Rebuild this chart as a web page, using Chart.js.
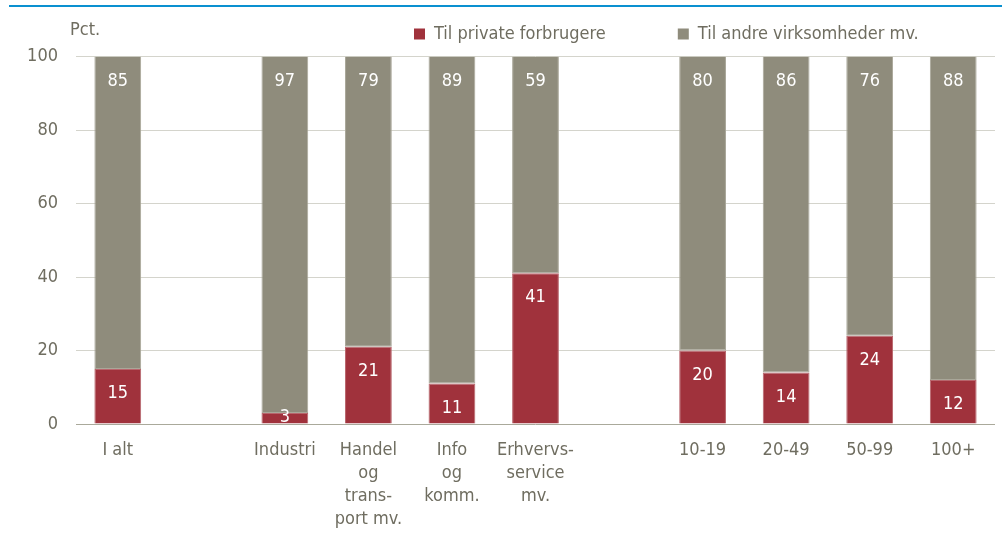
<!DOCTYPE html>
<html lang="da">
<head>
    <meta charset="UTF-8">
    <title>Salg til private forbrugere og virksomheder</title>
    <script src="https://cdn.jsdelivr.net/npm/chart.js@4.4.1/dist/chart.umd.min.js"></script>
    <style>
        body { margin: 0; padding: 0; background: #fff; }
        #wrap { width: 1002px; height: 537px; }
    </style>
</head>
<body>
    <div id="wrap">
        <canvas id="myChart" width="1002" height="537"></canvas>
    </div>

    <script>
    const categories = [
        'I alt', '', 'Industri', ['Handel', 'og', 'trans-', 'port mv.'],
        ['Info', 'og', 'komm.'], ['Erhvervs-', 'service', 'mv.'], '',
        '10-19', '20-49', '50-99', '100+'
    ];
    const privateShare = [15, null, 3, 21, 11, 41, null, 20, 14, 24, 12];
    const otherShare = [85, null, 97, 79, 89, 59, null, 80, 86, 76, 88];
    const yTicks = [0, 20, 40, 60, 80, 100];

    const FONT = "'Liberation Sans Narrow', 'Arial Narrow', 'DejaVu Sans Condensed', sans-serif";
    const TEXT = '#6f6d60';
    const RED = '#a0323c';
    const GREY = '#8f8c7c';

    // blue rule at the top, "Pct." and legend placement
    const decor = {
        id: 'decor',
        beforeDraw(chart) {
            const ctx = chart.ctx;
            ctx.save();
            ctx.fillStyle = '#0a90d0';
            ctx.fillRect(9, 5, 993, 2);
            ctx.fillStyle = TEXT;
            ctx.font = '18px ' + FONT;
            ctx.textAlign = 'left';
            ctx.textBaseline = 'middle';
            ctx.fillText('Pct.', 70, 30);
            ctx.restore();
        },
        afterLayout(chart) {
            const lg = chart.legend;
            const pad = lg.options.labels.padding;
            lg.left = 414 - pad;
            lg.right = 3000;
            lg.top = 36 - 11 - pad;
        }
    };

    // value labels, inside end of each segment
    const barLabels = {
        id: 'barLabels',
        afterDatasetsDraw(chart) {
            const ctx = chart.ctx;
            ctx.save();
            ctx.fillStyle = '#ffffff';
            ctx.font = '18px ' + FONT;
            ctx.textAlign = 'center';
            ctx.textBaseline = 'middle';
            chart.data.datasets.forEach((ds, di) => {
                const meta = chart.getDatasetMeta(di);
                meta.data.forEach((bar, i) => {
                    const v = ds.data[i];
                    if (v === null) return;
                    const p = bar.getProps(['x', 'y', 'base'], true);
                    const y = Math.min(p.y + 24.5, p.base - 6);
                    ctx.fillText(String(v), p.x, y);
                });
            });
            ctx.restore();
        }
    };

    const legendHeight = {
        id: 'legendHeight',
        beforeInit(chart) {
            const fit = chart.legend.fit;
            chart.legend.fit = function () {
                fit.bind(chart.legend)();
                this.height = 50;
            };
        }
    };

    new Chart(document.getElementById('myChart'), {
        type: 'bar',
        data: {
            labels: categories,
            datasets: [{
                label: 'Til private forbrugere',
                data: privateShare,
                backgroundColor: RED,
                borderColor: '#b8656c',
                borderWidth: 1,
                borderSkipped: 'bottom'
            }, {
                label: 'Til andre virksomheder mv.',
                data: otherShare,
                backgroundColor: GREY,
                borderColor: '#a9a799',
                borderWidth: 1,
                borderSkipped: 'top'
            }]
        },
        options: {
            responsive: false,
            animation: false,
            devicePixelRatio: 1,
            layout: { padding: { top: 6.5, right: 7, left: 0, bottom: 0 } },
            datasets: {
                bar: { categoryPercentage: 1, barPercentage: 0.56 }
            },
            plugins: {
                legend: {
                    position: 'top',
                    align: 'start',
                    labels: {
                        boxWidth: 11,
                        boxHeight: 11,
                        padding: 72,
                        color: TEXT,
                        font: { family: FONT, size: 18 },
                        generateLabels(chart) {
                            return chart.data.datasets.map((ds, i) => ({
                                text: ds.label,
                                fillStyle: ds.backgroundColor,
                                strokeStyle: ds.backgroundColor,
                                lineWidth: 0,
                                fontColor: TEXT,
                                datasetIndex: i
                            }));
                        }
                    }
                },
                tooltip: { enabled: false }
            },
            scales: {
                x: {
                    stacked: true,
                    afterFit(scale) { scale.height = 113; },
                    grid: { display: false, drawTicks: false },
                    border: { display: false },
                    ticks: {
                        color: TEXT,
                        padding: 15,
                        maxRotation: 0,
                        autoSkip: false,
                        font: { family: FONT, size: 18, lineHeight: 1.28 }
                    }
                },
                y: {
                    stacked: true,
                    min: 0,
                    max: 100,
                    afterFit(scale) { scale.width = 76; },
                    afterBuildTicks(scale) { scale.ticks = yTicks.map(v => ({ value: v })); },
                    grid: {
                        drawTicks: false,
                        color: ctx => ctx.tick && ctx.tick.value === 0 ? '#aaa99b' : '#d4d4cc'
                    },
                    border: { display: false },
                    ticks: {
                        color: TEXT,
                        padding: 18,
                        font: { family: FONT, size: 18 }
                    }
                }
            }
        },
        plugins: [decor, barLabels, legendHeight]
    });
    </script>
</body>
</html>
